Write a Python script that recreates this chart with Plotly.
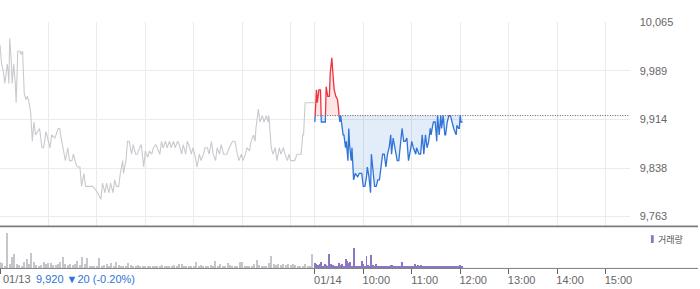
import plotly.graph_objects as go

# ---------------- data ----------------
# minutes from 09:00 of 01/13 (0..390 = 01/13 session, 390..780 = 01/14 session)
prev_min = [0, 2, 4, 6, 9, 10, 11, 12, 14, 15, 17, 19, 20, 22, 25, 26, 28, 30, 32, 34,
            36, 38, 40, 42, 44, 47, 49, 52, 54, 57, 59, 62, 64, 68, 72, 74, 75, 78, 81, 84,
            86, 89, 91, 94, 96, 99, 101, 104, 106, 109, 111, 115, 118, 121, 125, 127, 130, 132, 135, 137,
            140, 142, 144, 147, 149, 152, 153, 156, 158, 160, 163, 165, 168, 170, 173, 175, 178, 180, 183, 185,
            188, 190, 193, 195, 198, 200, 202, 205, 207, 210, 212, 215, 217, 220, 222, 225, 227, 230, 232, 235,
            237, 239, 242, 244, 247, 249, 252, 254, 257, 259, 262, 264, 267, 269, 272, 274, 277, 281, 284, 288,
            291, 294, 296, 299, 301, 304, 306, 309, 311, 314, 316, 317, 320, 322, 325, 327, 330, 332, 333, 336,
            338, 341, 343, 346, 348, 351, 353, 356, 358, 360, 365, 368, 373, 375, 376, 378, 390]
prev_price = [10030, 10000, 9990, 9970, 10000, 9990, 9970, 10040, 10005, 9970, 10000, 9970, 9940, 10020, 10020, 10015, 10020, 9955, 9945, 9950,
              9940, 9925, 9880, 9910, 9890, 9895, 9900, 9870, 9870, 9895, 9885, 9870, 9890, 9885, 9900, 9900, 9890, 9870, 9850, 9870,
              9850, 9850, 9860, 9845, 9840, 9840, 9810, 9830, 9810, 9810, 9810, 9810, 9805, 9800, 9790, 9815, 9800, 9815, 9800, 9815,
              9800, 9820, 9810, 9810, 9830, 9850, 9830, 9850, 9880, 9880, 9860, 9875, 9860, 9860, 9870, 9875, 9840, 9865, 9855, 9865,
              9860, 9870, 9875, 9870, 9860, 9880, 9870, 9880, 9870, 9880, 9870, 9880, 9870, 9880, 9875, 9860, 9875, 9860, 9880, 9870,
              9860, 9870, 9855, 9840, 9860, 9850, 9860, 9870, 9870, 9860, 9880, 9860, 9850, 9870, 9860, 9875, 9860, 9860, 9870, 9880,
              9880, 9860, 9850, 9860, 9850, 9860, 9870, 9865, 9880, 9890, 9880, 9900, 9930, 9910, 9920, 9910, 9920, 9910, 9920, 9870,
              9860, 9870, 9850, 9870, 9860, 9870, 9860, 9850, 9860, 9850, 9850, 9860, 9860, 9890, 9890, 9940, 9940]

today_min = [390, 392, 393, 395, 397, 398, 403, 404, 406, 408, 409, 411, 413, 414, 416, 418, 419, 420, 421, 422,
             423, 425, 426, 428, 429, 431, 432, 433, 435, 436, 438, 440, 443, 445, 448, 450, 452, 454, 455, 457,
             459, 460, 462, 464, 466, 468, 470, 472, 474, 476, 478, 480, 482, 484, 485, 487, 489, 490, 492, 494,
             496, 498, 500, 502, 504, 506, 509, 510, 512, 515, 516, 519, 521, 523, 525, 527, 529, 531, 533, 534,
             536, 537, 539, 541, 542, 544, 546, 547, 549, 551, 552, 554, 556, 558, 560, 562, 565, 566, 568, 569,
             570, 571, 573]
today_price = [9910, 9960, 9940, 9960, 9960, 9910, 9910, 9965, 9950, 9950, 9985, 10010, 9975, 9960, 9950, 9945, 9935, 9920, 9910, 9920,
               9910, 9890, 9890, 9870, 9880, 9850, 9900, 9875, 9850, 9870, 9820, 9830, 9825, 9830, 9830, 9810, 9810, 9825, 9840, 9825,
               9800, 9860, 9835, 9810, 9810, 9820, 9820, 9840, 9860, 9860, 9840, 9860, 9870, 9890, 9860, 9885, 9870, 9860, 9850, 9850,
               9880, 9900, 9880, 9880, 9885, 9850, 9870, 9880, 9870, 9860, 9870, 9860, 9860, 9890, 9860, 9890, 9870, 9880, 9900, 9890,
               9905, 9910, 9910, 9880, 9920, 9890, 9920, 9900, 9920, 9890, 9890, 9910, 9920, 9920, 9910, 9900, 9890, 9905, 9900, 9900,
               9920, 9910, 9910]

base_price = 9920

prev_vol_min = list(range(0, 390, 3))
prev_vol = [6, 5, 2, 36, 4, 11, 14, 4, 3, 2,
            6, 9, 4, 15, 6, 3, 2, 3, 6, 4,
            5, 5, 3, 3, 4, 6, 11, 4, 3, 4,
            3, 4, 7, 3, 11, 4, 10, 2, 2, 2,
            2, 10, 2, 3, 4, 2, 5, 2, 6, 3,
            2, 2, 2, 5, 3, 2, 2, 3, 2, 2,
            2, 2, 2, 2, 2, 2, 2, 3, 2, 2,
            2, 2, 3, 2, 4, 4, 2, 2, 2, 2,
            2, 6, 2, 3, 2, 2, 2, 3, 2, 7,
            2, 4, 2, 2, 5, 3, 2, 2, 2, 6,
            6, 2, 2, 2, 2, 4, 8, 3, 2, 2,
            2, 5, 12, 4, 3, 4, 3, 4, 3, 4,
            3, 4, 3, 2, 2, 2, 4, 2, 2, 14]

today_vol_min = list(range(390, 574, 2))
today_vol = [5, 4, 3, 4, 6, 2, 4, 3, 2, 14,
             4, 3, 2, 2, 2, 5, 3, 4, 2, 9,
             7, 5, 6, 2, 21, 2, 2, 2, 2, 7,
             4, 2, 12, 3, 2, 13, 3, 2, 4, 2,
             2, 2, 2, 2, 2, 2, 2, 3, 3, 2,
             2, 2, 2, 2, 6, 2, 2, 2, 2, 2,
             2, 2, 4, 2, 3, 2, 3, 2, 2, 2,
             2, 2, 2, 2, 2, 2, 2, 2, 2, 2,
             2, 2, 2, 2, 2, 2, 2, 2, 2, 2,
             3, 2]

y_tickvals = [9763, 9838.5, 9914, 9989.5, 10065]
y_ticktext = ["9,763", "9,838", "9,914", "9,989", "10,065"]
x_tickvals = [0, 390, 450, 510, 570, 630, 690, 750]
x_ticktext = ["", "01/14", "10:00", "11:00", "12:00", "13:00", "14:00", "15:00"]
first_day_label = "01/13"
grid_x = [60, 120, 180, 240, 300, 360, 390, 450, 510, 570, 630, 690, 750]
header_text = "9,920 ▼20 (-0.20%)"
legend_text = "거래량"

assert len(prev_min) == len(prev_price)
assert len(today_min) == len(today_price)
assert len(prev_vol_min) == len(prev_vol)
assert len(today_vol_min) == len(today_vol)

# ---------------- split today series at the base line ----------------
pts = []
for i in range(len(today_min)):
    t, p = today_min[i], today_price[i]
    if i > 0:
        t0, p0 = today_min[i - 1], today_price[i - 1]
        if (p0 - base_price) * (p - base_price) < 0:
            tc = t0 + (base_price - p0) / (p - p0) * (t - t0)
            pts.append((tc, base_price))
    pts.append((t, p))

tx = [a for a, _ in pts]
up_fill = [max(b, base_price) for _, b in pts]
dn_fill = [min(b, base_price) for _, b in pts]
up_line = [b if b >= base_price else None for _, b in pts]
dn_line = [b if b <= base_price else None for _, b in pts]

W, H = 700, 289
plot_right = 631.5 / W
main_top = 1 - 16.7 / H
main_bot = 1 - 225 / H
vol_top = 1 - 228 / H
vol_bot = 1 - 268 / H
label_y = 1 - 279 / H

FONT = "Liberation Sans, Arial, Noto Sans CJK KR, sans-serif"

fig = go.Figure()

# previous day line
fig.add_trace(go.Scatter(x=prev_min, y=prev_price, mode="lines",
                         line=dict(color="#c9cacf", width=1.1), hoverinfo="skip"))

# fills
fig.add_trace(go.Scatter(x=tx, y=[base_price] * len(tx), mode="lines",
                         line=dict(width=0, color="rgba(0,0,0,0)"), hoverinfo="skip"))
fig.add_trace(go.Scatter(x=tx, y=up_fill, mode="lines", fill="tonexty",
                         fillcolor="rgba(240,60,60,0.13)",
                         line=dict(width=0, color="rgba(0,0,0,0)"), hoverinfo="skip"))
fig.add_trace(go.Scatter(x=tx, y=[base_price] * len(tx), mode="lines",
                         line=dict(width=0, color="rgba(0,0,0,0)"), hoverinfo="skip"))
fig.add_trace(go.Scatter(x=tx, y=dn_fill, mode="lines", fill="tonexty",
                         fillcolor="rgba(60,120,210,0.14)",
                         line=dict(width=0, color="rgba(0,0,0,0)"), hoverinfo="skip"))

# base dotted line
fig.add_trace(go.Scatter(x=[390, 780], y=[base_price, base_price], mode="lines",
                         line=dict(color="#555555", width=1, dash="1px,1.5px"), hoverinfo="skip"))

# today lines
fig.add_trace(go.Scatter(x=tx, y=dn_line, mode="lines", connectgaps=False,
                         line=dict(color="#2f74d6", width=1.3), hoverinfo="skip"))
fig.add_trace(go.Scatter(x=tx, y=up_line, mode="lines", connectgaps=False,
                         line=dict(color="#f0323c", width=1.3), hoverinfo="skip"))

# volume
fig.add_trace(go.Bar(x=prev_vol_min, y=prev_vol, width=1.4, marker=dict(color="#c5c6cc", line=dict(width=0)),
                     xaxis="x2", yaxis="y2", hoverinfo="skip"))
fig.add_trace(go.Bar(x=today_vol_min, y=today_vol, width=1.2, marker=dict(color="#8d77c4", line=dict(width=0)),
                     xaxis="x2", yaxis="y2", hoverinfo="skip"))

fig.update_layout(
    width=W, height=H,
    margin=dict(l=0, r=0, t=0, b=0),
    paper_bgcolor="white", plot_bgcolor="white",
    showlegend=False, bargap=0,
    font=dict(family=FONT, size=11, color="#666666"),
    xaxis=dict(domain=[0, plot_right], range=[0, 780], anchor="y",
               tickmode="array", tickvals=grid_x, showticklabels=False,
               showgrid=True, gridcolor="#ebebeb", gridwidth=1,
               zeroline=False, showline=False, ticks=""),
    yaxis=dict(domain=[main_bot, main_top], range=[9747.8, 10065], anchor="x",
               side="right", tickmode="array", tickvals=y_tickvals, ticktext=y_ticktext,
               showgrid=True, gridcolor="#ebebeb", gridwidth=1, zeroline=False,
               showline=False, ticks="", ticklabelstandoff=9,
               tickfont=dict(family=FONT, size=11, color="#666666")),
    xaxis2=dict(domain=[0, plot_right], range=[0, 780], anchor="y2",
                tickmode="array", tickvals=x_tickvals, ticktext=x_ticktext,
                ticks="outside", ticklen=5, tickcolor="#666666", tickwidth=1,
                ticklabelshift=13, ticklabelstandoff=-4,
                showgrid=False, zeroline=False, showline=False,
                tickfont=dict(family=FONT, size=11, color="#666666")),
    yaxis2=dict(domain=[vol_bot, vol_top], range=[0, 40], anchor="x2", visible=False),
    shapes=[
        dict(type="line", xref="paper", yref="paper", x0=0, x1=1, y0=main_bot, y1=main_bot,
             line=dict(color="#7d7d7d", width=1.6)),
        dict(type="line", xref="paper", yref="paper", x0=0, x1=1, y0=vol_bot, y1=vol_bot,
             line=dict(color="#7d7d7d", width=1)),
        dict(type="rect", xref="paper", yref="paper", x0=652.8 / W, x1=655.6 / W,
             y0=1 - 242 / H, y1=1 - 234 / H, fillcolor="#8d77c4", line=dict(width=0)),
    ],
    annotations=[
        dict(text=first_day_label, xref="paper", yref="paper", x=1 / W, y=label_y,
             xanchor="left", yanchor="middle", showarrow=False,
             font=dict(family=FONT, size=11, color="#666666")),
        dict(text=header_text, xref="paper", yref="paper", x=34 / W, y=label_y,
             xanchor="left", yanchor="middle", showarrow=False,
             font=dict(family=FONT, size=11, color="#2f74d6")),
        dict(text=legend_text, xref="paper", yref="paper", x=657.5 / W, y=1 - 238 / H,
             xanchor="left", yanchor="middle", showarrow=False,
             font=dict(family="Noto Sans CJK KR", size=9, color="#555555")),
    ],
)

fig.write_html("out.html")
